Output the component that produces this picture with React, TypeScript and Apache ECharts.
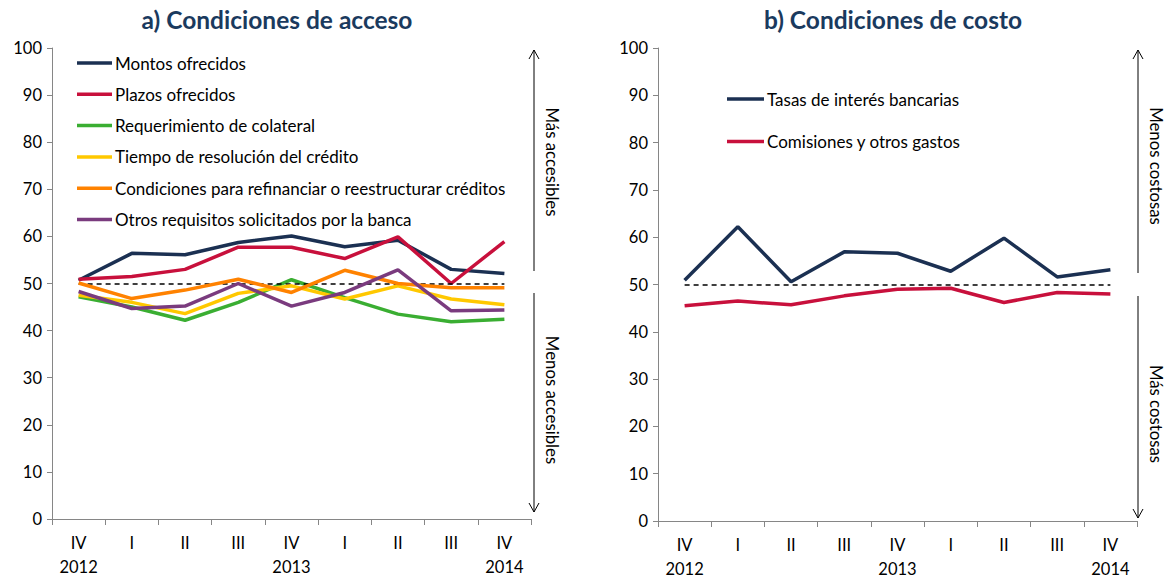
import React, { useEffect, useRef } from "react";
import * as echarts from "echarts";

const categories = ["2012-IV", "2013-I", "2013-II", "2013-III", "2013-IV", "2014-I", "2014-II", "2014-III", "2014-IV"];
const quarterLabels = ["IV", "I", "II", "III", "IV", "I", "II", "III", "IV"];
const yearLabels = ["2012", "", "", "", "2013", "", "", "", "2014"];

const neutral = 50;

// a) Condiciones de acceso
const montos = [50.7, 56.4, 56.1, 58.7, 60.1, 57.8, 59.2, 53.0, 52.1];
const plazos = [50.9, 51.5, 53.0, 57.7, 57.7, 55.3, 59.9, 50.0, 58.9];
const colateral = [47.2, 45.0, 42.2, 46.0, 50.8, 47.0, 43.5, 41.9, 42.4];
const tiempo = [47.5, 46.0, 43.6, 47.9, 49.5, 46.7, 49.5, 46.7, 45.5];
const refinanciar = [50.1, 46.8, 48.6, 50.9, 48.1, 52.8, 50.0, 49.1, 49.1];
const otros = [48.3, 44.7, 45.2, 50.0, 45.2, 48.1, 52.9, 44.2, 44.4];

// b) Condiciones de costo
const tasas = [50.9, 62.2, 50.6, 56.9, 56.6, 52.8, 59.8, 51.6, 53.1];
const comisiones = [45.5, 46.5, 45.7, 47.6, 49.0, 49.2, 46.2, 48.3, 48.0];

const leftSeries = [
  { name: "Montos ofrecidos", data: montos, color: "#1B3052" },
  { name: "Plazos ofrecidos", data: plazos, color: "#C8103C" },
  { name: "Requerimiento de colateral", data: colateral, color: "#3AAE32" },
  { name: "Tiempo de resolución del crédito", data: tiempo, color: "#FFC800" },
  { name: "Condiciones para refinanciar o reestructurar créditos", data: refinanciar, color: "#FF8200" },
  { name: "Otros requisitos solicitados por la banca", data: otros, color: "#7A3B7E" },
];
const rightSeries = [
  { name: "Tasas de interés bancarias", data: tasas, color: "#1B3052" },
  { name: "Comisiones y otros gastos", data: comisiones, color: "#C8103C" },
];

const FONT = "Lato";
const AXIS_COLOR = "#868686";

function makeArrow(x: number, yTop: number, yMidTop: number, yMidBot: number, yBot: number) {
  const st = { stroke: "#000", lineWidth: 1, fill: "none" };
  return [
    { type: "line", shape: { x1: x, y1: yTop, x2: x, y2: yMidTop }, style: st, silent: true },
    { type: "polyline", shape: { points: [[x - 5, yTop + 9], [x, yTop], [x + 5, yTop + 9]] }, style: st, silent: true },
    { type: "line", shape: { x1: x, y1: yMidBot, x2: x, y2: yBot }, style: st, silent: true },
    { type: "polyline", shape: { points: [[x - 5, yBot - 9], [x, yBot], [x + 5, yBot - 9]] }, style: st, silent: true },
  ];
}

function vText(text: string, x: number, y: number) {
  return {
    type: "text",
    x,
    y,
    rotation: -Math.PI / 2,
    style: { text, fill: "#000", font: `16.8px ${FONT}`, textAlign: "center", textVerticalAlign: "middle" },
    silent: true,
  };
}

function legendItems(items: { name: string; color: string }[], x0: number, y0: number, gap: number, lineLen: number) {
  const out: any[] = [];
  items.forEach((it, i) => {
    const y = y0 + i * gap;
    out.push({ type: "line", shape: { x1: x0, y1: y, x2: x0 + lineLen, y2: y }, style: { stroke: it.color, lineWidth: 3.5 }, silent: true });
    out.push({
      type: "text",
      x: x0 + lineLen + 3,
      y,
      style: { text: it.name, fill: "#000", font: `17px ${FONT}`, textAlign: "left", textVerticalAlign: "middle" },
      silent: true,
    });
  });
  return out;
}

export default function App() {
  const ref = useRef<HTMLDivElement>(null);
  useEffect(() => {
    document.body.style.margin = "0";
    if (!ref.current) return;
    const chart = echarts.init(ref.current, undefined, { renderer: "svg" });

    const xAxisBase = (gridIndex: number) => ({
      type: "category",
      gridIndex,
      data: categories,
      boundaryGap: true,
      axisLine: { show: true, lineStyle: { color: AXIS_COLOR, width: 1 } },
      axisTick: { show: true, length: 6, lineStyle: { color: AXIS_COLOR } },
      axisLabel: {
        interval: 0,
        color: "#000",
        fontFamily: FONT,
        fontSize: 16.5,
        lineHeight: 24,
        margin: 12,
        formatter: (_v: string, idx: number) => quarterLabels[idx] + (yearLabels[idx] ? "\n" + yearLabels[idx] : ""),
      },
      splitLine: { show: false },
    });
    const yAxisBase = (gridIndex: number) => ({
      type: "value",
      gridIndex,
      min: 0,
      max: 100,
      interval: 10,
      axisLine: { show: true, lineStyle: { color: AXIS_COLOR, width: 1 } },
      axisTick: { show: true, length: 5, lineStyle: { color: AXIS_COLOR } },
      axisLabel: { color: "#000", fontFamily: FONT, fontSize: 16.5, margin: 10 },
      splitLine: { show: false },
    });

    const refLine = {
      silent: true,
      symbol: "none",
      label: { show: false },
      lineStyle: { type: [5, 4], color: "#000", width: 1.5 },
      data: [[{ coord: [0, neutral] }, { coord: [categories.length - 1, neutral] }]],
    };

    const series: any[] = [];
    leftSeries.forEach((s, i) => {
      series.push({
        type: "line",
        name: s.name,
        xAxisIndex: 0,
        yAxisIndex: 0,
        data: s.data,
        showSymbol: false,
        symbol: "none",
        lineStyle: { color: s.color, width: 3.5 },
        itemStyle: { color: s.color },
        z: 2 + i,
        markLine: i === 0 ? refLine : undefined,
      });
    });
    rightSeries.forEach((s, i) => {
      series.push({
        type: "line",
        name: s.name,
        xAxisIndex: 1,
        yAxisIndex: 1,
        data: s.data,
        showSymbol: false,
        symbol: "none",
        lineStyle: { color: s.color, width: 3.5 },
        itemStyle: { color: s.color },
        z: 2 + i,
        markLine: i === 0 ? refLine : undefined,
      });
    });

    const graphic: any[] = [
      {
        type: "text",
        x: 277,
        y: 19,
        style: { text: "a) Condiciones de acceso", fill: "#1A3A5E", font: `bold 24.5px ${FONT}`, textAlign: "center", textVerticalAlign: "middle" },
        silent: true,
      },
      {
        type: "text",
        x: 893,
        y: 19,
        style: { text: "b) Condiciones de costo", fill: "#1A3A5E", font: `bold 24.5px ${FONT}`, textAlign: "center", textVerticalAlign: "middle" },
        silent: true,
      },
      ...legendItems(leftSeries, 77, 63, 31.3, 35),
      ...legendItems(rightSeries, 727, 99, 42.4, 37),
      ...makeArrow(534, 50, 271, 293, 512),
      ...makeArrow(1138, 50, 273, 296, 518),
      vText("Más accesibles", 552, 162),
      vText("Menos accesibles", 552, 400),
      vText("Menos costosas", 1156, 166),
      vText("Más costosas", 1156, 414),
    ];

    chart.setOption({
      animation: false,
      backgroundColor: "#fff",
      textStyle: { fontFamily: FONT },
      grid: [
        { left: 52, top: 48, width: 479, height: 471 },
        { left: 658, top: 48, width: 479, height: 476 },
      ],
      xAxis: [xAxisBase(0), xAxisBase(1)],
      yAxis: [yAxisBase(0), yAxisBase(1)],
      series,
      graphic,
    });
    return () => chart.dispose();
  }, []);
  return <div ref={ref} style={{ width: 1167, height: 581 }} />;
}
